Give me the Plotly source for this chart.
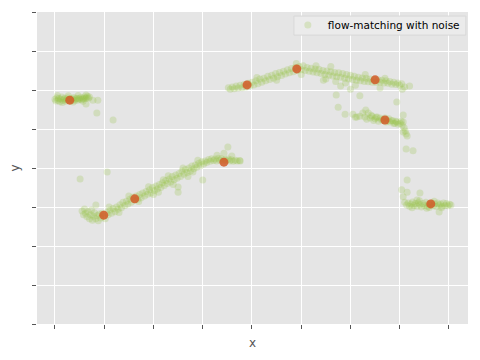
import plotly.graph_objects as go

# ---- data ----
seg1 = [(0.00,5.76),(0.02,5.72),(0.04,5.80),(0.06,5.74),(0.08,5.78),(0.10,5.70),(0.12,5.77),(0.14,5.82),
        (0.16,5.73),(0.18,5.76),(0.20,5.79),(0.22,5.71),(0.24,5.75),(0.26,5.80),(0.28,5.74),(0.30,5.77),
        (0.32,5.72),(0.34,5.78),(0.36,5.75),(0.38,5.81),(0.40,5.73),(0.42,5.77),(0.44,5.79),(0.46,5.74),
        (0.48,5.78),(0.50,5.76),(0.52,5.81),(0.54,5.75),(0.56,5.79),(0.58,5.77),(0.60,5.82),(0.62,5.78),
        (0.64,5.80),(0.66,5.84),(0.68,5.79),(0.70,5.82),(0.05,5.86),(0.15,5.68),(0.27,5.85),(0.37,5.69),
        (0.47,5.86),(0.57,5.71),(0.63,5.87),(0.63,5.64),(0.77,5.74),(0.87,5.74),(0.85,5.41),(1.18,5.23)]

seg2 = [(0.55,2.90),(0.58,2.80),(0.60,2.95),(0.62,2.84),(0.65,2.75),(0.67,2.88),(0.70,2.70),(0.72,2.80),
        (0.74,2.92),(0.76,2.66),(0.78,2.76),(0.80,2.85),(0.83,2.70),(0.86,2.78),(0.88,2.65),(0.90,2.82),
        (0.93,2.72),(0.96,2.84),(0.98,2.76),(1.02,2.70),(1.05,2.86),(1.08,2.80),(1.12,2.92),(1.15,2.84),
        (1.18,2.96),(1.22,2.88),(1.25,3.00),(1.28,2.94),(1.32,3.06),(1.35,2.98),(1.38,3.12),(1.42,3.04),
        (1.45,3.15),(1.48,3.08),(1.52,3.20),(1.55,3.12),(1.58,3.25),(1.62,3.18),(1.65,3.28),(1.68,3.20),
        (1.72,3.32),(1.75,3.24),(1.78,3.36),(1.82,3.28),(1.85,3.40),(1.88,3.33),(1.92,3.44),(1.95,3.36),
        (1.98,3.50),(2.02,3.42),(2.05,3.54),(2.08,3.46),(2.12,3.58),(2.15,3.50),(2.18,3.62),(2.22,3.55),
        (2.25,3.68),(2.28,3.60),(2.32,3.72),(2.35,3.64),(2.38,3.78),(2.42,3.70),(2.45,3.82),(2.48,3.74),
        (2.52,3.86),(2.55,3.78),(2.58,3.92),(2.62,3.84),(2.65,3.96),(2.68,3.88),(2.72,4.00),(2.75,3.92),
        (2.78,4.05),(2.82,3.98),(2.85,4.08),(2.88,4.02),(2.92,4.12),(2.95,4.06),(2.98,4.16),(3.02,4.10),
        (3.05,4.18),(3.08,4.14),(3.12,4.22),(3.15,4.17),(3.18,4.24),(3.22,4.19),(3.25,4.23),(3.28,4.18),
        (3.32,4.25),(3.35,4.20),(3.38,4.24),(3.42,4.18),(3.45,4.22),(3.48,4.19),(3.52,4.23),(3.55,4.18),
        (3.58,4.21),(3.62,4.17),(3.66,4.20),(3.70,4.18),(3.75,4.19),
        (1.50,3.28),(1.70,3.14),(1.90,3.52),(2.10,3.38),(2.30,3.80),(2.40,3.58),(2.60,4.00),(2.70,3.78),
        (2.90,4.20),(2.80,3.90),(1.30,2.86),(1.10,3.00),(2.20,3.70),(2.00,3.32),
        (0.83,3.05),(0.51,3.72),(1.06,3.90),(2.50,3.38),(2.50,3.51),(3.00,3.69),(3.29,4.33),(3.43,4.38),
        (3.51,4.54),(3.59,4.31),(3.76,4.18)]

seg3 = [(3.52,6.06),(3.56,6.02),(3.60,6.08),(3.64,6.03),(3.68,6.10),(3.72,6.05),(3.76,6.12),(3.80,6.06),
        (3.84,6.14),(3.88,6.08),(3.92,6.17),(3.96,6.10),(4.00,6.20),(4.04,6.13),(4.08,6.24),(4.12,6.16),
        (4.16,6.28),(4.20,6.20),(4.24,6.30),(4.28,6.24),(4.32,6.35),(4.36,6.27),(4.40,6.38),(4.44,6.30),
        (4.48,6.42),(4.52,6.34),(4.56,6.45),(4.60,6.37),(4.64,6.48),(4.68,6.41),(4.72,6.52),(4.76,6.44),
        (4.80,6.55),(4.84,6.47),(4.88,6.58),(4.92,6.50),(4.96,6.60),(5.00,6.52),(5.04,6.62),(5.08,6.50),
        (5.12,6.58),(5.16,6.48),(5.20,6.56),(5.24,6.46),(5.28,6.54),(5.32,6.44),(5.36,6.53),(5.40,6.42),
        (5.44,6.50),(5.48,6.40),(5.52,6.49),(5.56,6.38),(5.60,6.47),(5.64,6.36),(5.68,6.45),(5.72,6.34),
        (5.76,6.44),(5.80,6.33),(5.84,6.42),(5.88,6.30),(5.92,6.40),(5.96,6.28),(6.00,6.38),(6.04,6.27),
        (6.08,6.35),(6.12,6.25),(6.16,6.33),(6.20,6.24),(6.24,6.31),(6.28,6.22),(6.32,6.30),(6.36,6.21),
        (6.40,6.28),(6.44,6.20),(6.48,6.27),(6.52,6.19),(6.56,6.26),(6.60,6.20),(6.64,6.25),(6.68,6.18),
        (6.72,6.24),(6.76,6.17),(6.80,6.22),(6.84,6.15),(6.88,6.20),(6.92,6.14),(6.96,6.18),(7.00,6.12),
        (7.04,6.16),(7.10,6.08),
        (4.10,6.32),(4.50,6.25),(4.90,6.68),(5.00,6.40),(5.30,6.62),(5.50,6.28),(5.70,6.22),(5.60,6.60),
        (5.90,6.18),(6.10,6.12),(6.30,6.40),(6.70,6.30),(5.80,6.10),(6.00,6.02),(5.45,6.25),(7.20,6.10),
        (7.05,6.02),(5.71,5.87),(5.75,5.56),(5.89,5.38),(6.19,5.85),(6.94,5.69),(6.60,6.05)]

seg4 = [(6.05,5.38),(6.10,5.30),(6.13,5.31),(6.19,5.33),(6.25,5.41),(6.29,5.31),(6.31,5.49),(6.33,5.25),
        (6.36,5.41),(6.40,5.28),(6.42,5.35),(6.44,5.33),(6.47,5.22),(6.50,5.26),(6.52,5.30),(6.54,5.31),
        (6.57,5.20),(6.60,5.28),(6.63,5.24),(6.66,5.23),(6.70,5.28),(6.72,5.18),(6.76,5.21),(6.78,5.26),
        (6.80,5.18),(6.83,5.22),(6.86,5.21),(6.88,5.14),(6.90,5.15),(6.92,5.20),(6.94,5.18),(6.97,5.12),
        (7.01,5.15),(7.03,5.20),(7.05,5.10),(7.07,5.18),(7.07,5.36),(7.09,5.03),(7.11,4.95),(7.13,4.87),
        (7.15,4.82),(7.07,4.92),(7.13,4.49),(7.27,4.44),(7.15,3.69),(7.04,3.44),(7.15,3.38),(7.41,3.36),
        (7.07,3.26)]

seg5 = [(7.10,3.12),(7.14,3.05),(7.17,3.10),(7.20,3.02),(7.23,3.08),(7.26,3.13),(7.29,3.04),(7.32,3.09),
        (7.35,3.02),(7.38,3.11),(7.41,3.06),(7.44,3.00),(7.47,3.09),(7.50,3.04),(7.53,3.12),(7.56,3.02),
        (7.59,3.08),(7.62,3.05),(7.65,3.11),(7.68,3.03),(7.71,3.08),(7.74,3.01),(7.77,3.10),(7.80,3.05),
        (7.83,3.08),(7.86,3.02),(7.89,3.10),(7.92,3.04),(7.95,3.09),(7.98,3.03),(8.01,3.07),(8.04,3.05),
        (7.25,2.98),(7.40,3.16),(7.55,2.97),(7.70,3.15),(7.85,2.98),(7.80,2.87),(7.35,3.18),(7.60,2.99)]

orange_x = [0.30, 0.99, 1.62, 3.43, 3.90, 4.91, 6.50, 6.70, 7.63]
orange_y = [5.74, 2.79, 3.21, 4.15, 6.13, 6.54, 6.26, 5.23, 3.08]

noise_pts = seg1 + seg2 + seg3 + seg4 + seg5
noise_x = [p[0] for p in noise_pts]
noise_y = [p[1] for p in noise_pts]

fig = go.Figure()
fig.add_trace(go.Scatter(
    x=noise_x, y=noise_y, mode="markers", name="flow-matching with noise",
    marker=dict(size=7, color="rgb(150,195,70)", opacity=0.25,
                line=dict(width=0)),
))
fig.add_trace(go.Scatter(
    x=orange_x, y=orange_y, mode="markers", showlegend=False,
    marker=dict(size=9, color="rgb(210,90,40)", opacity=0.85, line=dict(width=0)),
))

axis_common = dict(
    showgrid=True, gridcolor="white", gridwidth=1,
    zeroline=False, showline=False,
    ticks="outside", ticklen=4, tickwidth=1, tickcolor="#555555",
    showticklabels=False, dtick=1, tick0=0,
    title_font=dict(family="DejaVu Sans", size=12, color="#555555"),
)
fig.update_xaxes(range=[-0.365, 8.386], title=dict(text="x", standoff=10), **axis_common)
fig.update_yaxes(range=[0, 8], title=dict(text="y", standoff=17), **axis_common)

# legend frame drawn as a shape so its size matches the reference
fig.add_shape(type="rect", xref="paper", yref="paper",
              x0=0.596, x1=0.995, y0=0.926, y1=0.987,
              fillcolor="#EBEBEB", line=dict(color="#D8D8D8", width=1), layer="above")

# page body has an 8px margin: figure is sized/positioned to compensate
fig.update_layout(
    width=472, height=352,
    margin=dict(l=29, r=12, t=4, b=36, autoexpand=False),
    paper_bgcolor="white", plot_bgcolor="#E5E5E5",
    font=dict(family="DejaVu Sans", size=11, color="black"),
    legend=dict(x=0.582, y=1.005, xanchor="left", yanchor="top",
                bgcolor="rgba(0,0,0,0)", borderwidth=0,
                itemwidth=30,
                font=dict(size=10.5, color="black")),
)

fig.write_html("out.html")
